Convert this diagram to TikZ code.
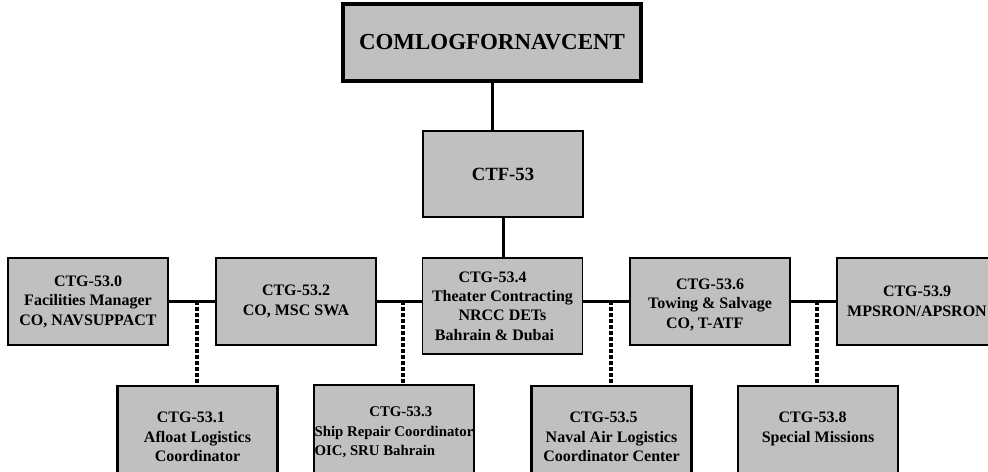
\documentclass[tikz,border=0pt]{standalone}
\usepackage{fontspec}
\setmainfont{Liberation Serif}
\definecolor{boxgray}{HTML}{C0C0C0}
\newcommand{\shl}[1]{\hspace*{#1}}
\tikzset{
  px/.style={x=0.75pt,y=-0.75pt},
  basebox/.style={draw=black, fill=boxgray, inner sep=0pt, align=center,
    font=\fontsize{12pt}{14.6pt}\selectfont\bfseries, text=black},
  topbox/.style={basebox, line width=2.6pt, minimum width=223.5pt, minimum height=57.75pt,
    font=\fontsize{17.2pt}{20pt}\selectfont\bfseries},
  ctfbox/.style={basebox, line width=1.1pt, minimum width=120pt, minimum height=64.5pt,
    font=\fontsize{14pt}{16pt}\selectfont\bfseries},
  rowbox/.style={basebox, line width=1.1pt, minimum width=120pt, minimum height=65.25pt},
  lowbox/.style={basebox, line width=1.9pt, minimum width=120pt, minimum height=76.5pt},
  solidline/.style={line width=2.25pt},
  dotline/.style={line width=2.5pt, dash pattern=on 3pt off 1.5pt}
}
\begin{document}
\begin{tikzpicture}[px]
\clip (0,0) rectangle (988,471);
\fill[white] (0,0) rectangle (988,471);
% nodes
\node[topbox] (top) at (492,42.5) {\shl{0pt}COMLOGFORNAVCENT};
\node[ctfbox] (ctf) at (503,174) {CTF-53};
\node[rowbox] (g0) at (88,301.5) {CTG-53.0\\Facilities Manager\\CO, NAVSUPPACT};
\node[rowbox] (g2) at (296,301.5) {CTG-53.2\\CO, MSC SWA};
\node[rowbox, minimum height=72pt] (g4) at (502.5,306) {CTG-53.4\shl{15pt}\\Theater Contracting\\NRCC DETs\shl{16pt}\\Bahrain \& Dubai\shl{12pt}};
\node[rowbox] (g6) at (710,301.5) {\mbox{}\\[-2pt]CTG-53.6\shl{16pt}\\Towing \& Salvage\\CO, T-ATF\shl{8pt}};
\node[rowbox] (g9) at (917,301.5) {CTG-53.9\\MPSRON/APSRON};
\node[lowbox] (g1) at (197.5,437) {CTG-53.1\shl{10pt}\\Afloat Logistics\\Coordinator};
\node[lowbox, minimum height=71.25pt, font=\fontsize{11.1pt}{14.6pt}\selectfont\bfseries, align=left] (g3) at (394,432.5) {\shl{41pt}CTG-53.3\\Ship Repair Coordinator\\OIC, SRU Bahrain};
\node[lowbox] (g5) at (611.5,437) {CTG-53.5\shl{12pt}\\Naval Air Logistics\\Coordinator Center};
\node[lowbox] (g8) at (818,437) {CTG-53.8\shl{8pt}\\Special Missions\\\mbox{}};
% junctions on the horizontal bar
\coordinate (j1) at (197,301);
\coordinate (j3) at (403,301);
\coordinate (j5) at (611,301);
\coordinate (j8) at (817,301);
% solid connectors
\draw[solidline] (top.south) -- (top.south |- ctf.north);
\draw[solidline] (ctf.south) -- (ctf.south |- g4.north);
\draw[solidline] (g0.east) -- (g2.west);
\draw[solidline] (g2.east) -- (g2.east -| g4.west);
\draw[solidline] (g6.west -| g4.east) -- (g6.west);
\draw[solidline] (g6.east) -- (g9.west);
% dotted connectors
\draw[dotline] (j1) -- (j1 |- g1.north);
\draw[dotline] (j3) -- (j3 |- g3.north);
\draw[dotline] (j5) -- (j5 |- g5.north);
\draw[dotline] (j8) -- (j8 |- g8.north);
\end{tikzpicture}
\end{document}
